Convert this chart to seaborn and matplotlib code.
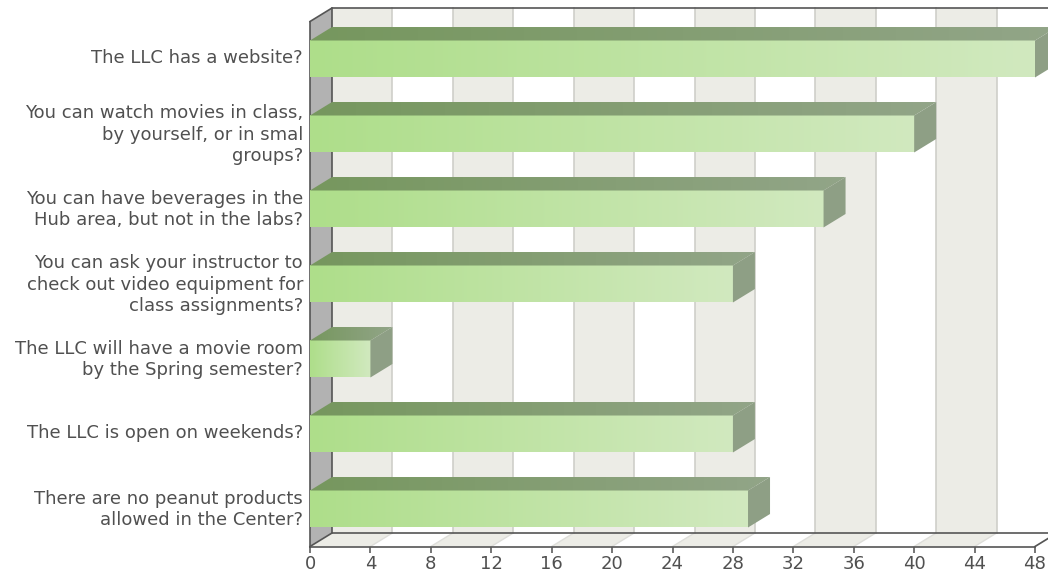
#! /bin/env python3

'''
Horizontal bars with a fake 3D box around them
'''

import numpy as np
import pandas as pd
import matplotlib
matplotlib.use('Agg')
import matplotlib.pyplot as plt
from matplotlib.colors import LinearSegmentedColormap
from matplotlib.patches import Polygon
from matplotlib.transforms import ScaledTranslation

import seaborn as sns

questions = [
    'The LLC has a website?',
    'You can watch movies in class,\nby yourself, or in smal\ngroups?',
    'You can have beverages in the\nHub area, but not in the labs?',
    'You can ask your instructor to\ncheck out video equipment for\nclass assignments?',
    'The LLC will have a movie room\nby the Spring semester?',
    'The LLC is open on weekends?',
    'There are no peanut products\nallowed in the Center?',
]
answers = [48, 40, 34, 28, 4, 28, 29]
ticks = list(range(0, 49, 4))

# depth of the box, in data units
DX = 1.457
DY = 0.18
DARK = '#555555'
TEXT = '#505050'

plt.rcParams.update({'font.family': 'DejaVu Sans', 'font.size': 13})

W, H = 1048, 574
fig = plt.figure(figsize=(W / 100, H / 100), dpi=100)
axes = fig.add_axes([310 / W, (H - 546.5) / H, 725 / W, 525 / H])

df = pd.DataFrame({'question': questions, 'answer': answers})
sns.barplot(data=df, x='answer', y='question', ax=axes, orient='h',
            width=0.493, color='#b0e08c', saturation=1, zorder=5)
bars = list(axes.patches)

y_top, y_bot = -0.5, 6.5
front_cmap = LinearSegmentedColormap.from_list('front', ['#aede8a', '#d1e9bf'])
top_cmap = LinearSegmentedColormap.from_list('top', ['#76975e', '#92a588'])
ramp = np.linspace(0, 1, 256).reshape(1, -1)

# back wall and floor stripes
for i in range(len(ticks) - 1):
    a, b = ticks[i], ticks[i + 1]
    if i % 2 == 0:
        axes.add_patch(Polygon([(a + DX, y_top - DY), (b + DX, y_top - DY),
                                (b + DX, y_bot - DY), (a + DX, y_bot - DY)],
                               fc='#ecece6', ec='none', zorder=1, clip_on=False))
        axes.add_patch(Polygon([(a + DX, y_bot - DY), (b + DX, y_bot - DY),
                                (b, y_bot), (a, y_bot)],
                               fc='#ecece6', ec='none', zorder=1, clip_on=False))
for t in ticks[1:]:
    axes.plot([t + DX, t + DX], [y_top - DY, y_bot - DY],
              color='#cfcfca', lw=1.2, zorder=2, clip_on=False)
    axes.plot([t + DX, t], [y_bot - DY, y_bot],
              color='#dededa', lw=1, zorder=2, clip_on=False)

# left wall
axes.add_patch(Polygon([(0, y_top), (DX, y_top - DY), (DX, y_bot - DY), (0, y_bot)],
                       fc='#b2b2b2', ec='none', zorder=2, clip_on=False))

# frame lines
axes.plot([0, DX, 48 + DX + 2], [y_top, y_top - DY, y_top - DY],
          color=DARK, lw=1.2, zorder=3, clip_on=False)
axes.plot([DX, DX, 48 + DX], [y_top - DY, y_bot - DY, y_bot - DY],
          color=DARK, lw=1.2, zorder=3, clip_on=False)
axes.plot([0, 0], [y_top, y_bot], color=DARK, lw=1.2, zorder=3, clip_on=False)
axes.plot([0, DX], [y_bot, y_bot - DY], color=DARK, lw=1.2, zorder=3, clip_on=False)
axes.plot([0, 48], [y_bot, y_bot], color=DARK, lw=1.2, zorder=8, clip_on=False)
axes.plot([48, 48 + DX], [y_bot, y_bot - DY], color=DARK, lw=1.2, zorder=3, clip_on=False)

# gradient faces on top of each seaborn bar
for bar in bars:
    x1 = bar.get_width()
    y0 = bar.get_y()
    y1 = y0 + bar.get_height()
    y_up, y_down = min(y0, y1), max(y0, y1)

    axes.imshow(ramp, cmap=front_cmap, aspect='auto', zorder=6,
                extent=(0, x1, y_down, y_up))

    top = Polygon([(0, y_up), (DX, y_up - DY), (x1 + DX, y_up - DY), (x1, y_up)],
                  transform=axes.transData, fc='none', ec='none', clip_on=False)
    axes.add_patch(top)
    img = axes.imshow(ramp, cmap=top_cmap, aspect='auto', zorder=6,
                      extent=(0, x1 + DX, y_up, y_up - DY))
    img.set_clip_box(fig.bbox)
    img.set_clip_path(top)

    axes.add_patch(Polygon([(x1, y_up), (x1 + DX, y_up - DY),
                            (x1 + DX, y_down - DY), (x1, y_down)],
                           fc='#8e9f85', ec='none', zorder=6, clip_on=False))

axes.set_xlim(0, 48)
axes.set_ylim(y_bot, y_top)
axes.set_xticks(ticks)
axes.set_xlabel('')
axes.set_ylabel('')
axes.tick_params(axis='x', colors=TEXT, length=4, width=1.1, pad=2, labelsize=13)
axes.tick_params(axis='y', colors=TEXT, length=0, pad=5, labelsize=13)
nudge = ScaledTranslation(0, 3 / 100, fig.dpi_scale_trans)
for label in axes.get_yticklabels():
    label.set_linespacing(1.22)
    label.set_multialignment('right')
    label.set_transform(label.get_transform() + nudge)
sns.despine(ax=axes, left=True, bottom=True)
axes.patch.set_alpha(0)

fig.savefig('out.png', dpi=100)
